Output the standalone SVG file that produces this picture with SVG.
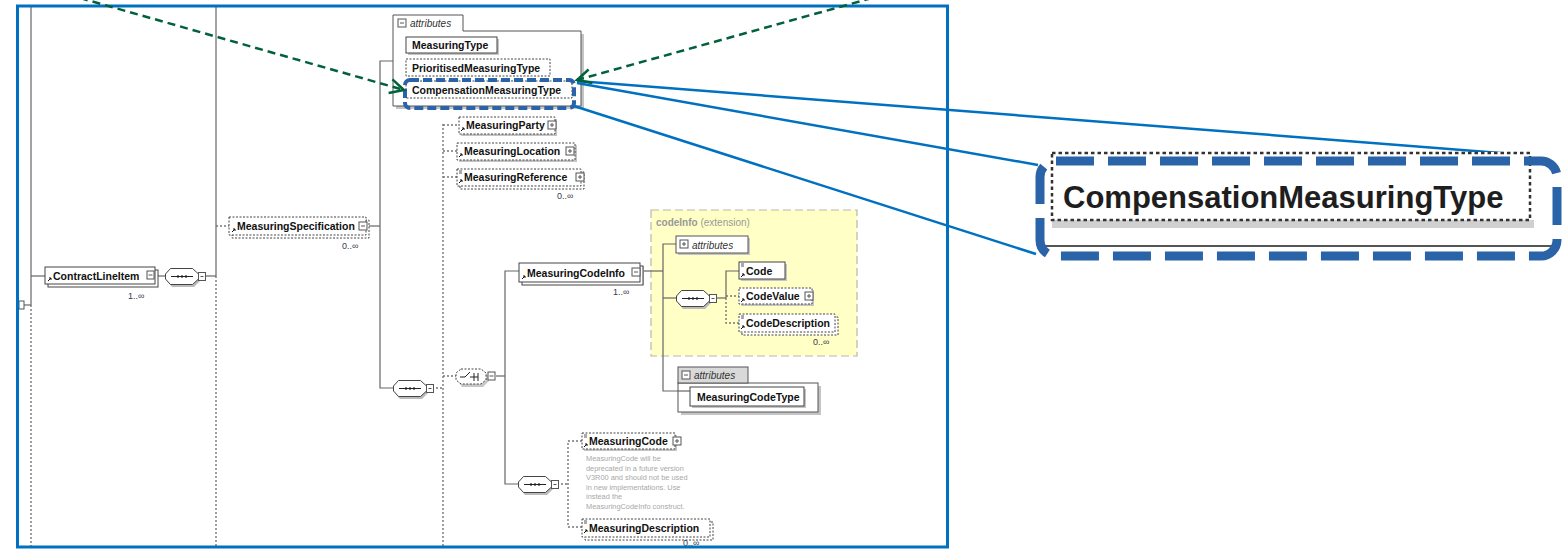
<svg xmlns="http://www.w3.org/2000/svg" xmlns:xlink="http://www.w3.org/1999/xlink" width="1562" height="550" viewBox="0 0 1562 550">
<style>
.el{fill:#fff;stroke:#444;stroke-width:1}
.opt{stroke-dasharray:2,1.5}
.sh{fill:#c4c4c4;stroke:none}
.lbl{font-family:"Liberation Sans",Arial,sans-serif;font-weight:bold;font-size:10.5px;fill:#111}
.card{font-family:"Liberation Sans",Arial,sans-serif;font-size:9px;fill:#3a3a50}
.att{font-family:"Liberation Sans",Arial,sans-serif;font-style:italic;font-size:10px;fill:#333}
.ln{stroke:#666;stroke-width:1.2;fill:none}
.dl{stroke:#777;stroke-width:1.4;stroke-dasharray:2,2;fill:none}
.btn{fill:#fff;stroke:#555;stroke-width:1}
.bl{stroke:#555;stroke-width:1}
.note{font-family:"Liberation Sans",Arial,sans-serif;font-size:7.4px;fill:#a8a8a8}
.ref{stroke:#111;stroke-width:1;fill:none}
.green{stroke:#00613A;stroke-width:2.5;stroke-dasharray:8,5;fill:none}
.blue{stroke:#0070C0;stroke-width:2.5;fill:none}
</style>
<defs>
<marker id="ga" markerUnits="userSpaceOnUse" markerWidth="18" markerHeight="18" refX="15" refY="8" orient="auto" viewBox="0 0 18 16">
<path d="M1,1 L15,8 L1,15" fill="none" stroke="#00613A" stroke-width="2.5"/>
</marker>
<symbol id="seq" viewBox="0 0 42 18" width="42" height="18" overflow="visible">
<path d="M7,3 H29 L35,8 V13 L29,19 H7 L2,13 V8 Z" fill="#bbb"/>
<path d="M5.5,0.5 H27.5 L33.5,6 V11 L27.5,16.5 H5.5 L0.5,11 V6 Z" fill="#fff" stroke="#444"/>
<line x1="6" y1="8.5" x2="28" y2="8.5" stroke="#222" stroke-width="1"/>
<circle cx="13" cy="8.5" r="1.2" fill="#222"/><circle cx="17" cy="8.5" r="1.2" fill="#222"/><circle cx="21" cy="8.5" r="1.2" fill="#222"/>
<rect x="33.5" y="4.5" width="7" height="8" class="btn"/>
<line x1="35.5" y1="8.5" x2="38.5" y2="8.5" class="bl"/>
</symbol>
</defs>
<rect width="1562" height="550" fill="#fff"/>

<g id="codeInfo-bg">
<rect x="651" y="210" width="206" height="146" fill="#FFFFC6" stroke="#b8b8a8" stroke-width="1.2" stroke-dasharray="8,4"/>
<text x="656" y="226" font-family="Liberation Sans, Arial, sans-serif" font-size="10" fill="#999"><tspan font-weight="bold">codeInfo</tspan> (extension)</text>
</g>

<g id="connectors">
<line x1="31" y1="6" x2="31" y2="305" class="ln"/>
<line x1="31" y1="305" x2="31" y2="547" class="dl"/>
<line x1="23" y1="305" x2="31" y2="305" class="ln"/>
<line x1="216" y1="6" x2="216" y2="276" class="ln"/>
<line x1="216" y1="276" x2="216" y2="547" class="dl"/>
<line x1="31" y1="276" x2="45" y2="276" class="ln"/>
<line x1="155" y1="276" x2="165" y2="276" class="ln"/>
<line x1="205" y1="276" x2="216" y2="276" class="ln"/>
<line x1="216" y1="226" x2="229" y2="226" class="dl"/>
<line x1="368" y1="226" x2="380" y2="226" class="ln"/>
<polyline points="393,61 380,61 380,388 393,388" class="ln"/>
<line x1="432" y1="388" x2="443" y2="388" class="dl"/>
<line x1="443" y1="124" x2="443" y2="547" class="dl"/>
<line x1="443" y1="125" x2="459" y2="125" class="dl"/>
<line x1="443" y1="151" x2="457" y2="151" class="dl"/>
<line x1="443" y1="177" x2="457" y2="177" class="dl"/>
<line x1="443" y1="376" x2="456" y2="376" class="dl"/>
<line x1="496" y1="376" x2="505" y2="376" class="ln"/>
<polyline points="519,271 505,271 505,484 518,484" class="ln"/>
<line x1="641" y1="271" x2="663" y2="271" class="ln"/>
<polyline points="676,244 663,244 663,391 690,391" class="ln"/>
<line x1="663" y1="298" x2="676" y2="298" class="ln"/>
<line x1="716" y1="298" x2="726" y2="298" class="ln"/>
<polyline points="739,271 726,271 726,298" class="ln"/>
<polyline points="726,298 726,323 739,323" class="dl"/>
<line x1="726" y1="296" x2="739" y2="296" class="dl"/>
<line x1="557" y1="484" x2="568" y2="484" class="dl"/>
<polyline points="582,441 568,441 568,527 582,527" class="dl"/>
</g>

<g id="left-stub">
<rect x="19" y="301" width="5" height="8" class="btn"/>
</g>

<g id="ContractLineItem">
<rect x="48" y="270" width="110" height="17" class="el"/>
<rect x="45" y="267" width="110" height="17" class="el"/>
<path d="M48,281 l3,-3 m-2,0 h2 v2" class="ref"/>
<text x="53" y="280" class="lbl">ContractLineItem</text>
<rect x="147" y="271" width="7" height="8" class="btn"/>
<line x1="148.5" y1="275" x2="152.5" y2="275" class="bl"/>
<text x="128" y="299" class="card">1..∞</text>
</g>

<g id="seq1"><use xlink:href="#seq" x="165" y="268"/></g>

<g id="MeasuringSpecification">
<rect x="232" y="220" width="137" height="18" class="el opt"/>
<rect x="229" y="217" width="137" height="18" class="el opt"/>
<path d="M232,232 l3,-3 m-2,0 h2 v2" class="ref"/>
<text x="237" y="230" class="lbl">MeasuringSpecification</text>
<rect x="359" y="222" width="8" height="8" class="btn"/>
<line x1="361" y1="226" x2="365" y2="226" class="bl"/>
<text x="342" y="249" class="card">0..∞</text>
</g>

<g id="attributes1">
<path d="M396,109 V34 H466 V34 H584 V109 Z" class="sh"/>
<path d="M393,106 V15 H463 V31 H581 V106 Z" fill="#fff" stroke="#555" stroke-width="1"/>
<rect x="398" y="19" width="8" height="8" class="btn"/>
<line x1="400" y1="23" x2="404" y2="23" class="bl"/>
<text x="410" y="27" class="att">attributes</text>
<g id="MeasuringType">
<rect x="408" y="39" width="91" height="16" class="sh"/>
<rect x="406" y="37" width="91" height="16" class="el"/>
<text x="412" y="49" class="lbl">MeasuringType</text>
</g>
<g id="PrioritisedMeasuringType">
<rect x="406" y="59" width="144" height="17" class="el opt"/>
<text x="412" y="72" class="lbl">PrioritisedMeasuringType</text>
</g>
<g id="CompensationMeasuringType">
<rect x="406" y="81" width="166" height="17" class="el opt"/>
<text x="412" y="94" class="lbl">CompensationMeasuringType</text>
</g>
<rect id="highlight" x="405" y="80" width="169" height="28" rx="5" fill="none" stroke="#2B63A8" stroke-width="4" stroke-dasharray="9,4"/>
</g>

<g id="MeasuringParty">
<rect x="461" y="119" width="96" height="17" class="sh"/>
<rect x="459" y="117" width="96" height="17" class="el opt"/>
<path d="M461,131 l3,-3 m-2,0 h2 v2" class="ref"/>
<text x="466" y="129" class="lbl">MeasuringParty</text>
<rect x="548" y="121" width="8" height="8" class="btn"/>
<path d="M550,125 h4 M552,123 v4" class="bl"/>
</g>

<g id="MeasuringLocation">
<rect x="459" y="145" width="118" height="17" class="sh"/>
<rect x="457" y="143" width="118" height="17" class="el opt"/>
<path d="M459,157 l3,-3 m-2,0 h2 v2" class="ref"/>
<text x="464" y="155" class="lbl">MeasuringLocation</text>
<rect x="566" y="147" width="8" height="8" class="btn"/>
<path d="M568,151 h4 M570,149 v4" class="bl"/>
</g>

<g id="MeasuringReference">
<rect x="460" y="172" width="124" height="17" class="el opt"/>
<rect x="457" y="169" width="124" height="17" class="el opt"/>
<path d="M459,183 l3,-3 m-2,0 h2 v2" class="ref"/>
<path d="M459,171 h3 M459,173 h3" class="bl"/>
<text x="464" y="181" class="lbl">MeasuringReference</text>
<rect x="576" y="173" width="8" height="8" class="btn"/>
<path d="M578,177 h4 M580,175 v4" class="bl"/>
<text x="557" y="199" class="card">0..∞</text>
</g>

<g id="seq2"><use xlink:href="#seq" x="393" y="380"/></g>

<g id="choice">
<path d="M462,371 H483 L489,376 V381 L483,387 H462 L458,381 V376 Z" fill="#c8c8c8"/>
<path d="M461,369 H481 L486,373 V380 L481,384 H461 L456,380 V373 Z" fill="#fff" stroke="#444" stroke-dasharray="2,1.5"/>
<path d="M460,377 h5 l5,-5 M470,377 h8 M474,373 v8 M478,373 v8" stroke="#222" stroke-width="1" fill="none"/>
<rect x="488" y="372" width="7" height="8" class="btn"/>
<line x1="489.5" y1="376" x2="493.5" y2="376" class="bl"/>
</g>

<g id="MeasuringCodeInfo">
<rect x="522" y="266" width="122" height="19" class="sh"/>
<rect x="522" y="266" width="121" height="19" class="el"/>
<rect x="519" y="263" width="121" height="19" class="el"/>
<path d="M522,279 l3,-3 m-2,0 h2 v2" class="ref"/>
<text x="527" y="277" class="lbl">MeasuringCodeInfo</text>
<rect x="632" y="268" width="8" height="8" class="btn"/>
<line x1="634" y1="272" x2="638" y2="272" class="bl"/>
<text x="613" y="295" class="card">1..∞</text>
</g>

<g id="codeInfo">
<g id="attributes2">
<rect x="678" y="238" width="72" height="17" class="sh"/>
<rect x="676" y="236" width="72" height="17" fill="#fff" stroke="#555"/>
<rect x="680" y="240" width="8" height="8" class="btn"/>
<path d="M682,244 h4 M684,242 v4" class="bl"/>
<text x="692" y="249" class="att">attributes</text>
</g>
<g id="seq3"><use xlink:href="#seq" x="676" y="290"/></g>
<g id="Code">
<rect x="741" y="264" width="46" height="17" class="sh"/>
<rect x="739" y="262" width="46" height="17" class="el"/>
<path d="M741,277 l3,-3 m-2,0 h2 v2" class="ref"/>
<path d="M741,264 h3 M741,266 h3" class="bl"/>
<text x="746" y="275" class="lbl">Code</text>
</g>
<g id="CodeValue">
<rect x="741" y="290" width="73" height="16" class="sh"/>
<rect x="739" y="288" width="73" height="16" class="el opt"/>
<path d="M741,302 l3,-3 m-2,0 h2 v2" class="ref"/>
<text x="746" y="300" class="lbl">CodeValue</text>
<rect x="805" y="292" width="8" height="8" class="btn"/>
<path d="M807,296 h4 M809,294 v4" class="bl"/>
</g>
<g id="CodeDescription">
<rect x="742" y="317" width="96" height="18" class="el opt"/>
<rect x="739" y="314" width="96" height="18" class="el opt"/>
<path d="M741,329 l3,-3 m-2,0 h2 v2" class="ref"/>
<path d="M741,316 h3 M741,318 h3" class="bl"/>
<text x="746" y="327" class="lbl">CodeDescription</text>
<text x="813" y="345" class="card">0..∞</text>
</g>
</g>

<g id="attributes3">
<rect x="681" y="386" width="140" height="29" class="sh"/>
<rect x="678" y="383" width="140" height="29" fill="#fff" stroke="#555"/>
<rect x="678" y="367" width="70" height="16" fill="#d9d9d9" stroke="#555"/>
<rect x="682" y="371" width="8" height="8" class="btn"/>
<line x1="684" y1="375" x2="688" y2="375" class="bl"/>
<text x="694" y="379" class="att">attributes</text>
<line x1="678" y1="391" x2="690" y2="391" class="ln"/>
<g id="MeasuringCodeType">
<rect x="692" y="389" width="114" height="19" class="sh"/>
<rect x="690" y="387" width="114" height="19" class="el"/>
<text x="697" y="401" class="lbl">MeasuringCodeType</text>
</g>
</g>

<g id="seq4"><use xlink:href="#seq" x="518" y="476"/></g>

<g id="MeasuringCode">
<rect x="584" y="435" width="93" height="16" class="sh"/>
<rect x="582" y="433" width="93" height="16" class="el opt"/>
<path d="M584,447 l3,-3 m-2,0 h2 v2" class="ref"/>
<path d="M584,435 h3 M584,437 h3" class="bl"/>
<text x="589" y="445" class="lbl">MeasuringCode</text>
<rect x="673" y="437" width="8" height="8" class="btn"/>
<path d="M675,441 h4 M677,439 v4" class="bl"/>
<text class="note"><tspan x="586" y="461">MeasuringCode will be</tspan><tspan x="586" y="470.5">deprecated in a future version</tspan><tspan x="586" y="480">V3R00 and should not be used</tspan><tspan x="586" y="489.5">in new implementations. Use</tspan><tspan x="586" y="499">instead the</tspan><tspan x="586" y="508.5">MeasuringCodeInfo construct.</tspan></text>
</g>

<g id="MeasuringDescription">
<rect x="585" y="522" width="128" height="18" class="el opt"/>
<rect x="582" y="519" width="128" height="18" class="el opt"/>
<path d="M584,533 l3,-3 m-2,0 h2 v2" class="ref"/>
<path d="M584,521 h3 M584,523 h3" class="bl"/>
<text x="589" y="532" class="lbl">MeasuringDescription</text>
<text x="683" y="546" class="card" font-size="8">0..∞</text>
</g>

<g id="frame">
<rect x="17.5" y="6" width="930" height="541" fill="none" stroke="#0070C0" stroke-width="3"/>
</g>

<g id="callout-lines">
<line x1="577" y1="81" x2="1553" y2="157" class="blue"/>
<line x1="577" y1="83" x2="1038" y2="165" class="blue"/>
<line x1="574" y1="106" x2="1036" y2="254" class="blue"/>
</g>

<g id="arrows">
<line x1="80" y1="-2" x2="404" y2="90" class="green" marker-end="url(#ga)"/>
<line x1="872" y1="-2" x2="577" y2="80" class="green" marker-end="url(#ga)"/>
</g>

<g id="callout">
<rect x="1044" y="152" width="510" height="100" fill="#fff"/>
<rect x="1052" y="220" width="482" height="8" fill="#d0d0d0"/>
<line x1="1044" y1="246" x2="1556" y2="246" stroke="#555" stroke-width="2"/>
<rect x="1052" y="153" width="478" height="67" fill="#fff" stroke="#333" stroke-width="2.5" stroke-dasharray="3.5,3"/>
<text x="1063" y="208" font-family="Liberation Sans, Arial, sans-serif" font-weight="bold" font-size="31" fill="#1e1e1e">CompensationMeasuringType</text>
<rect x="1040" y="161" width="517" height="95" rx="16" fill="none" stroke="#2B63A8" stroke-width="9" stroke-dasharray="38,14"/>
</g>
</svg>
